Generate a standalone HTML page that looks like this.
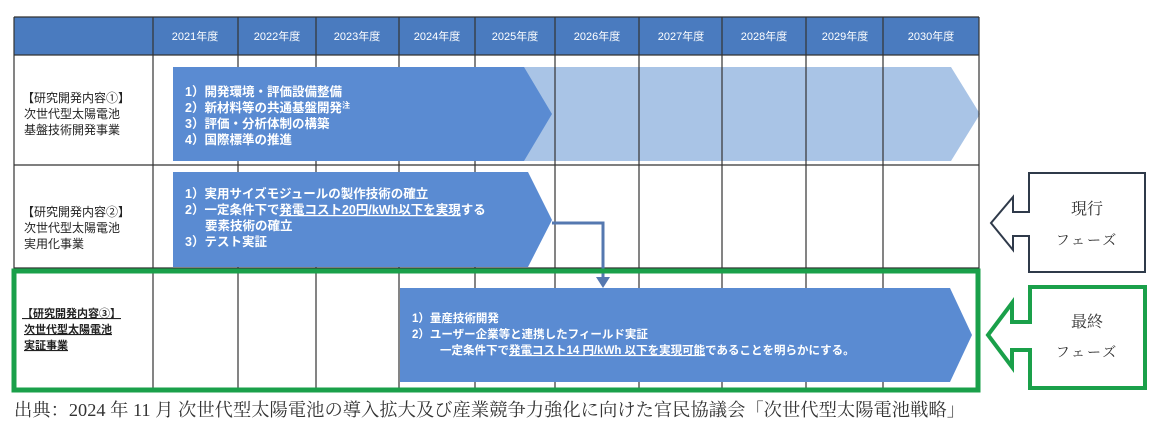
<!DOCTYPE html>
<html><head><meta charset="utf-8"><style>
html,body{margin:0;padding:0;background:#fff;}
svg{display:block;}
.h{font-family:"Liberation Sans","Noto Sans CJK JP",sans-serif;font-size:11px;fill:#fff;text-anchor:middle;}
.l{font-family:"Liberation Sans","Noto Sans CJK JP",sans-serif;font-size:12px;fill:#222;}
.w{font-family:"Liberation Sans","Noto Sans CJK JP",sans-serif;font-size:12.5px;fill:#fff;font-weight:bold;}
.s{font-family:"Liberation Serif","Noto Serif CJK SC",serif;fill:#333;}
</style></head><body>
<svg width="1161" height="439" viewBox="0 0 1161 439" xmlns="http://www.w3.org/2000/svg">
<rect x="14" y="17" width="965" height="38" fill="#4a7bbf"/>
<g class="h">
<text x="195" y="40">2021年度</text><text x="277" y="40">2022年度</text><text x="357" y="40">2023年度</text>
<text x="437" y="40">2024年度</text><text x="515" y="40">2025年度</text><text x="597" y="40">2026年度</text>
<text x="681" y="40">2027年度</text><text x="764" y="40">2028年度</text><text x="845" y="40">2029年度</text>
<text x="931" y="40">2030年度</text>
</g>
<polygon points="173,67 951,67 980,114 951,161 173,161" fill="#a9c4e6"/>
<g stroke="#333" stroke-width="1.2">
<line x1="14" y1="17" x2="14" y2="390"/><line x1="979" y1="17" x2="979" y2="390"/>
<line x1="153" y1="17" x2="153" y2="390"/><line x1="238" y1="17" x2="238" y2="390"/>
<line x1="316" y1="17" x2="316" y2="390"/><line x1="399" y1="17" x2="399" y2="390"/>
<line x1="475" y1="17" x2="475" y2="390"/><line x1="555" y1="17" x2="555" y2="390"/>
<line x1="639" y1="17" x2="639" y2="390"/><line x1="722" y1="17" x2="722" y2="390"/>
<line x1="806" y1="17" x2="806" y2="390"/><line x1="883" y1="17" x2="883" y2="390"/>
<line x1="14" y1="17" x2="979" y2="17"/><line x1="14" y1="55" x2="979" y2="55"/>
<line x1="14" y1="165" x2="979" y2="165"/><line x1="14" y1="268" x2="979" y2="268"/>
</g>
<!-- row1 -->
<polygon points="173,67 524,67 552,114 524,161 173,161" fill="#5a8bd2"/>
<g class="l"><text x="22" y="102">【研究開発内容①】</text><text x="24" y="118">次世代型太陽電池</text><text x="24" y="134">基盤技術開発事業</text></g>
<g class="w"><text x="185" y="96">1）開発環境・評価設備整備</text><text x="185" y="112">2）新材料等の共通基盤開発<tspan font-size="8" dy="-4">注</tspan></text><text x="185" y="128">3）評価・分析体制の構築</text><text x="185" y="144">4）国際標準の推進</text></g>
<!-- row2 -->
<polygon points="173,172 528,172 552,220 528,267 173,267" fill="#5a8bd2"/>
<g class="l"><text x="22" y="216">【研究開発内容②】</text><text x="24" y="232">次世代型太陽電池</text><text x="24" y="248">実用化事業</text></g>
<g class="w"><text x="185" y="198">1）実用サイズモジュールの製作技術の確立</text><text x="185" y="214">2）一定条件下で<tspan text-decoration="underline">発電コスト20円/kWh以下を実現</tspan>する</text><text x="205" y="230">要素技術の確立</text><text x="185" y="246">3）テスト実証</text></g>
<polyline points="552,223 603,223 603,280" fill="none" stroke="#5578b0" stroke-width="3"/>
<polygon points="596,277 610,277 603,288" fill="#5578b0"/>
<!-- row3 -->
<polygon points="400,288 950,288 972,335 950,382 400,382" fill="#5a8bd2"/>
<g class="l" font-weight="bold" text-decoration="underline"><text x="22" y="317" font-size="11">【研究開発内容③】</text><text x="24" y="333" font-size="11">次世代型太陽電池</text><text x="24" y="349" font-size="11">実証事業</text></g>
<g class="w"><text x="412" y="322" font-size="11.5">1）量産技術開発</text><text x="412" y="338" font-size="11.5">2）ユーザー企業等と連携したフィールド実証</text><text x="440" y="354" font-size="11.5">一定条件下で<tspan text-decoration="underline">発電コスト14 円/kWh 以下を実現可能</tspan>であることを明らかにする。</text></g>
<rect x="14" y="271" width="964" height="119" fill="none" stroke="#1aa04a" stroke-width="5"/>
<!-- phase boxes -->
<path d="M1029,173 H1145 V272 H1029 V236 H1013 V250 L991,223 L1013,197 V212 H1029 Z" fill="#fff" stroke="#2f3a4a" stroke-width="2"/>
<text class="s" x="1087" y="214" font-size="16" text-anchor="middle">現行</text>
<text class="s" x="1087" y="245" font-size="14" text-anchor="middle" letter-spacing="2">フェーズ</text>
<path d="M1030,287 H1145 V388 H1030 V350 H1012 V367 L988,335 L1012,303 V322 H1030 Z" fill="#fff" stroke="#1aa04a" stroke-width="4"/>
<text class="s" x="1087" y="327" font-size="16" text-anchor="middle">最終</text>
<text class="s" x="1087" y="357" font-size="14" text-anchor="middle" letter-spacing="2">フェーズ</text>
<text class="s" x="14" y="416" font-size="18" textLength="951" lengthAdjust="spacingAndGlyphs">出典：2024 年 11 月 次世代型太陽電池の導入拡大及び産業競争力強化に向けた官民協議会「次世代型太陽電池戦略」</text>
</svg>
</body></html>
